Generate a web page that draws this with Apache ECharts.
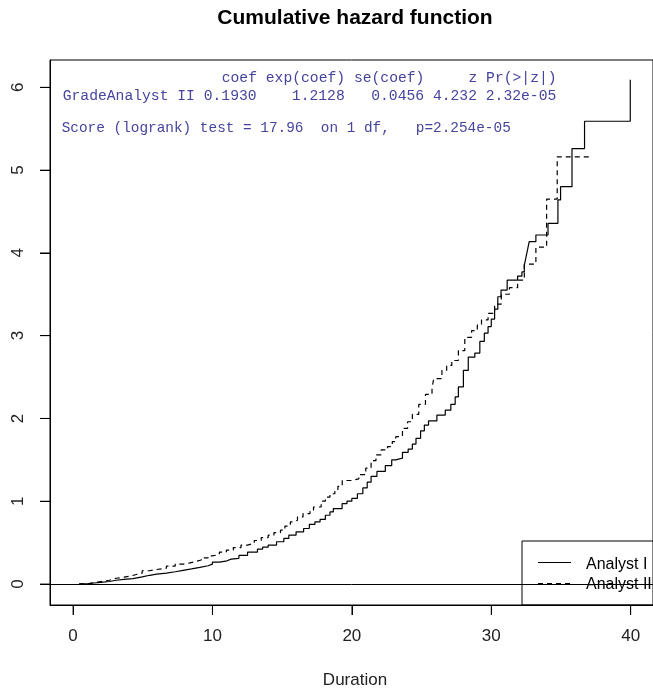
<!DOCTYPE html>
<html>
<head>
<meta charset="utf-8">
<script src="https://cdn.jsdelivr.net/npm/echarts@6/dist/echarts.min.js"></script>
<style>html,body{margin:0;padding:0;background:#fff;}#chart{width:653px;height:690px;}</style>
</head>
<body>
<div id="chart"></div>
<script>
// Step points [Duration, cumulative hazard]
var analystI = [
  [0.45,0.003],[1,0.012],[1.5,0.02],[2,0.03],[2.6,0.045],[3.1,0.055],[3.66,0.065],[4.3,0.085],
  [4.96,0.105],[5.5,0.118],[6,0.13],[6.7,0.148],[7.33,0.165],[7.9,0.182],[8.5,0.2],[9.1,0.22],
  [9.69,0.24],[10,0.265],[10.5,0.28],[11.05,0.30],[11.34,0.31],[11.9,0.345],[12.52,0.385],
  [13.23,0.42],[13.6,0.445],[14,0.47],[14.6,0.51],[15.12,0.55],[15.48,0.59],[16.0,0.63],
  [16.54,0.67],[16.95,0.72],[17.35,0.75],[17.72,0.78],[18.1,0.83],[18.43,0.87],[18.67,0.91],
  [19.3,0.97],[19.65,1.0],[20,1.035],[20.4,1.09],[20.79,1.16],[21.1,1.23],[21.38,1.3],
  [21.8,1.36],[22.4,1.43],[22.86,1.50],[23.15,1.52],[23.63,1.59],[24.04,1.63],[24.34,1.69],
  [24.6,1.76],[24.93,1.85],[25.2,1.92],[25.5,1.97],[26.1,2.04],[26.7,2.10],[27.1,2.17],
  [27.41,2.26],[27.64,2.38],[28.0,2.58],[28.35,2.74],[28.82,2.79],[29.18,2.93],[29.5,3.03],
  [29.77,3.11],[30.0,3.2],[30.24,3.32],[30.47,3.47],[30.7,3.55],[31.14,3.67],[31.89,3.72],
  [32.2,3.77],[32.37,3.85],[32.49,3.95],[32.6,4.035],[32.72,4.135],[33.2,4.216],[34.07,4.357],
  [34.78,4.64],[34.97,4.80],[35.79,5.26],[36.69,5.59],[39.97,6.09]
];
var analystII = [
  [0.45,0.003],[1,0.015],[1.5,0.03],[2,0.045],[2.6,0.069],[3.1,0.082],[3.66,0.095],[4.1,0.115],
  [4.55,0.13],[4.96,0.16],[5.5,0.175],[6,0.19],[6.7,0.215],[7.33,0.24],[7.9,0.255],[8.39,0.27],
  [8.75,0.29],[9.2,0.315],[9.69,0.34],[10,0.355],[10.5,0.385],[11,0.41],[11.5,0.44],[12.05,0.47],
  [12.52,0.49],[13.0,0.525],[13.5,0.56],[14.0,0.59],[14.41,0.62],[14.88,0.65],[15.2,0.7],
  [15.59,0.75],[15.77,0.77],[16.1,0.81],[16.5,0.85],[17.0,0.88],[17.25,0.93],[17.8,1.0],
  [18.1,1.05],[18.43,1.09],[18.78,1.12],[19.0,1.18],[19.31,1.25],[20.0,1.27],[20.5,1.32],
  [21.0,1.40],[21.38,1.49],[21.73,1.56],[22.1,1.62],[22.56,1.66],[22.9,1.72],[23.15,1.78],
  [23.63,1.88],[24.0,1.96],[24.34,2.05],[24.8,2.17],[25.28,2.29],[25.75,2.36],[25.87,2.48],
  [26.46,2.58],[26.8,2.64],[27.17,2.70],[27.64,2.82],[28.1,2.98],[28.59,3.06],[29.0,3.13],
  [29.3,3.19],[29.77,3.27],[30.24,3.38],[30.72,3.50],[31.3,3.58],[31.89,3.67],[32.37,3.865],
  [33.2,4.07],[33.97,4.65],[34.73,5.16],[37.09,5.16]
];
var xTicks = [0, 10, 20, 30, 40];
var yTicks = [0, 1, 2, 3, 4, 5, 6];
var seriesNames = ['Analyst I', 'Analyst II'];
var titleText = 'Cumulative hazard function';
var xAxisTitle = 'Duration';
var statLines = [
  'coef exp(coef) se(coef)     z Pr(>|z|)',
  'GradeAnalyst II 0.1930    1.2128   0.0456 4.232 2.32e-05',
  'Score (logrank) test = 17.96  on 1 df,   p=2.254e-05'
];

var SANS = '"Liberation Sans", Arial, sans-serif';
var MONO = '"Liberation Mono", "Courier New", monospace';
var statColor = '#45449e';
var dashPattern = [5, 4];
var X_MIN = -1.65, X_MAX = 41.6, Y_MIN = -0.254, Y_MAX = 6.33;
var TICK_LEN = 10;

var xTickPts = xTicks.map(function (v) { return [v, Y_MIN]; });
var yTickPts = yTicks.map(function (v) { return [X_MIN, v]; });

var chart = echarts.init(document.getElementById('chart'), null, {renderer: 'canvas'});
chart.setOption({
  animation: false,
  grid: {left: 50, top: 60, width: 610, height: 545, show: true, borderColor: '#000', borderWidth: 1},
  xAxis: {
    type: 'value', min: X_MIN, max: X_MAX,
    axisLine: {show: true, onZero: false, lineStyle: {color: '#000', width: 1}},
    splitLine: {show: false},
    axisTick: {show: true, length: TICK_LEN, customValues: xTicks},
    axisLabel: {show: true, customValues: xTicks, margin: 23, color: '#222', fontSize: 17, fontFamily: SANS}
  },
  yAxis: {
    type: 'value', min: Y_MIN, max: Y_MAX,
    axisLine: {show: true, onZero: false, lineStyle: {color: '#000', width: 1}},
    splitLine: {show: false},
    axisTick: {show: true, length: TICK_LEN, customValues: yTicks},
    axisLabel: {show: true, customValues: yTicks, margin: 23, rotate: 90, color: '#222', fontSize: 17, fontFamily: SANS}
  },
  series: [
    {
      name: seriesNames[0], type: 'line', step: 'end', symbol: 'none', showSymbol: false,
      data: analystI,
      lineStyle: {color: '#000', width: 1.2, type: 'solid'},
      itemStyle: {color: '#000'},
      markLine: {
        silent: true, symbol: ['none', 'none'], label: {show: false},
        lineStyle: {color: '#000', width: 1, type: 'solid'},
        data: [{yAxis: 0}]
      }
    },
    {
      name: seriesNames[1], type: 'line', step: 'end', symbol: 'none', showSymbol: false,
      data: analystII,
      lineStyle: {color: '#000', width: 1.2, type: dashPattern},
      itemStyle: {color: '#000'}
    },
    {
      type: 'scatter', silent: true, clip: false, data: xTickPts,
      symbol: 'rect', symbolSize: [1, TICK_LEN], symbolOffset: [0, TICK_LEN / 2],
      itemStyle: {color: '#000'}, z: 20
    },
    {
      type: 'scatter', silent: true, clip: false, data: yTickPts,
      symbol: 'rect', symbolSize: [TICK_LEN, 1], symbolOffset: [-TICK_LEN / 2, 0],
      itemStyle: {color: '#000'}, z: 20
    }
  ],
  graphic: {elements: [
    {type: 'rect', shape: {x: 522, y: 541, width: 200, height: 64}, style: {fill: 'none', stroke: '#000', lineWidth: 1}, z: 10},
    {type: 'line', shape: {x1: 538, y1: 562.5, x2: 571, y2: 562.5}, style: {stroke: '#000', lineWidth: 1.2}, z: 10},
    {type: 'line', shape: {x1: 538, y1: 583.5, x2: 571, y2: 583.5}, style: {stroke: '#000', lineWidth: 1.2, lineDash: dashPattern}, z: 10},
    {type: 'text', x: 586, y: 565, style: {text: seriesNames[0], font: '16px ' + SANS, fill: '#000', align: 'left', verticalAlign: 'middle'}, z: 10},
    {type: 'text', x: 586, y: 585, style: {text: seriesNames[1], font: '16px ' + SANS, fill: '#000', align: 'left', verticalAlign: 'middle'}, z: 10},
    {type: 'text', x: 355, y: 18, style: {text: titleText, font: 'bold 21px ' + SANS, fill: '#000', align: 'center', verticalAlign: 'middle'}},
    {type: 'text', x: 355, y: 680, style: {text: xAxisTitle, font: '17px ' + SANS, fill: '#222', align: 'center', verticalAlign: 'middle'}},
    {type: 'text', x: 221.7, y: 78, style: {text: statLines[0], font: '14.7px ' + MONO, fill: statColor, align: 'left', verticalAlign: 'middle'}},
    {type: 'text', x: 62.7, y: 96, style: {text: statLines[1], font: '14.7px ' + MONO, fill: statColor, align: 'left', verticalAlign: 'middle'}},
    {type: 'text', x: 61.7, y: 128, style: {text: statLines[2], font: '14.4px ' + MONO, fill: statColor, align: 'left', verticalAlign: 'middle'}}
  ]}
});
</script>
</body>
</html>
